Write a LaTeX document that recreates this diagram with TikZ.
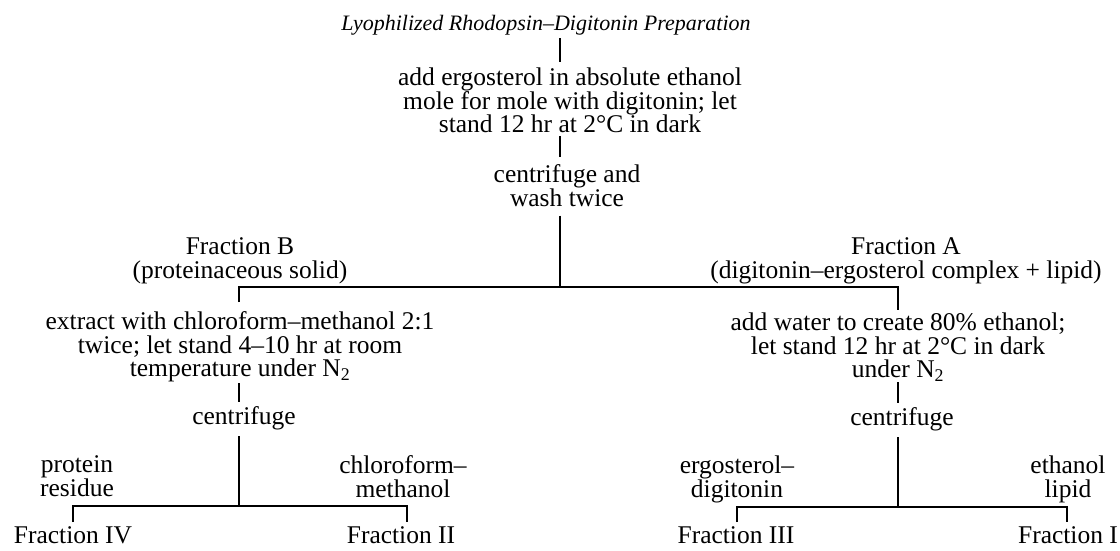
\documentclass[tikz,border=0pt]{standalone}
\usepackage{fontspec}
\setmainfont{Liberation Serif}
\begin{document}
\begin{tikzpicture}[x=1pt,y=-1pt,
  txt/.style={inner sep=0pt, outer sep=0pt, align=center, font=\fontsize{25.5}{23.5}\selectfont, anchor=north},
  lbl/.style={txt},
  ttl/.style={txt, font=\fontsize{22}{24}\selectfont\itshape},
  conn/.style={line width=1.1pt, line cap=butt}]
\useasboundingbox (0,0) rectangle (1120,550);
\node[ttl] (title) at (546,15) {Lyophilized Rhodopsin–Digitonin Preparation};
\node[txt] (step1) at (570,68) {add ergosterol in absolute ethanol\\mole for mole with digitonin; let\\stand 12 hr at 2°C in dark};
\node[txt] (cent1) at (567,165) {centrifuge and\\wash twice};
\node[txt] (fracB) at (240,238) {Fraction B\\(proteinaceous solid)};
\node[txt] (fracA) at (906,238) {Fraction A\\(digitonin–ergosterol complex + lipid)};
\node[txt] (extract) at (240,312) {extract with chloroform–methanol 2:1\\twice; let stand 4–10 hr at room\\temperature under N\textsubscript{2}};
\node[txt] (water) at (898,313) {add water to create 80\% ethanol;\\let stand 12 hr at 2°C in dark\\under N\textsubscript{2}};
\node[txt] (cent2) at (244,407) {centrifuge};
\node[txt] (cent3) at (902,408) {centrifuge};
\node[lbl] (prot) at (77,456) {protein\\residue};
\node[lbl] (chm) at (403,456) {chloroform–\\methanol};
\node[lbl] (ergd) at (737,456) {ergosterol–\\digitonin};
\node[lbl] (etl) at (1068,456) {ethanol\\lipid};
\node[txt] (f4) at (73,527) {Fraction IV};
\node[txt] (f2) at (401,527) {Fraction II};
\node[txt] (f3) at (736,527) {Fraction III};
\node[txt] (f1) at (1068,527) {Fraction I};
\coordinate (j0) at (560,287);
\coordinate (jL) at (239,287);
\coordinate (jR) at (898,287);
\coordinate (k0) at (239,506);
\coordinate (kL) at (73,506);
\coordinate (kR) at (407,506);
\coordinate (m0) at (898,507);
\coordinate (mL) at (737,507);
\coordinate (mR) at (1067,507);
\draw[conn] ([yshift=-3pt]title.south -| j0) -- ([yshift=6pt]step1.north -| j0);
\draw[conn] ([yshift=-3pt]step1.south -| j0) -- ([yshift=8pt]cent1.north -| j0);
\draw[conn] ([yshift=-9pt]cent1.south -| j0) -- (j0);
\draw[conn] ([yshift=10pt]extract.north -| jL) -- (jL) -- (jR) -- ([yshift=3pt]water.north -| jR);
\draw[conn] ([yshift=-1pt]extract.south -| jL) -- ([yshift=5pt]cent2.north -| jL);
\draw[conn] ([yshift=-1pt]water.south -| jR) -- ([yshift=5pt]cent3.north -| jR);
\draw[conn] ([yshift=-6pt]cent2.south -| k0) -- (k0);
\draw[conn] ([yshift=-6pt]cent3.south -| m0) -- (m0);
\draw[conn] ([yshift=5pt]f4.north -| kL) -- (kL) -- (kR) -- ([yshift=5pt]f2.north -| kR);
\draw[conn] ([yshift=5pt]f3.north -| mL) -- (mL) -- (mR) -- ([yshift=5pt]f1.north -| mR);
\end{tikzpicture}
\end{document}
